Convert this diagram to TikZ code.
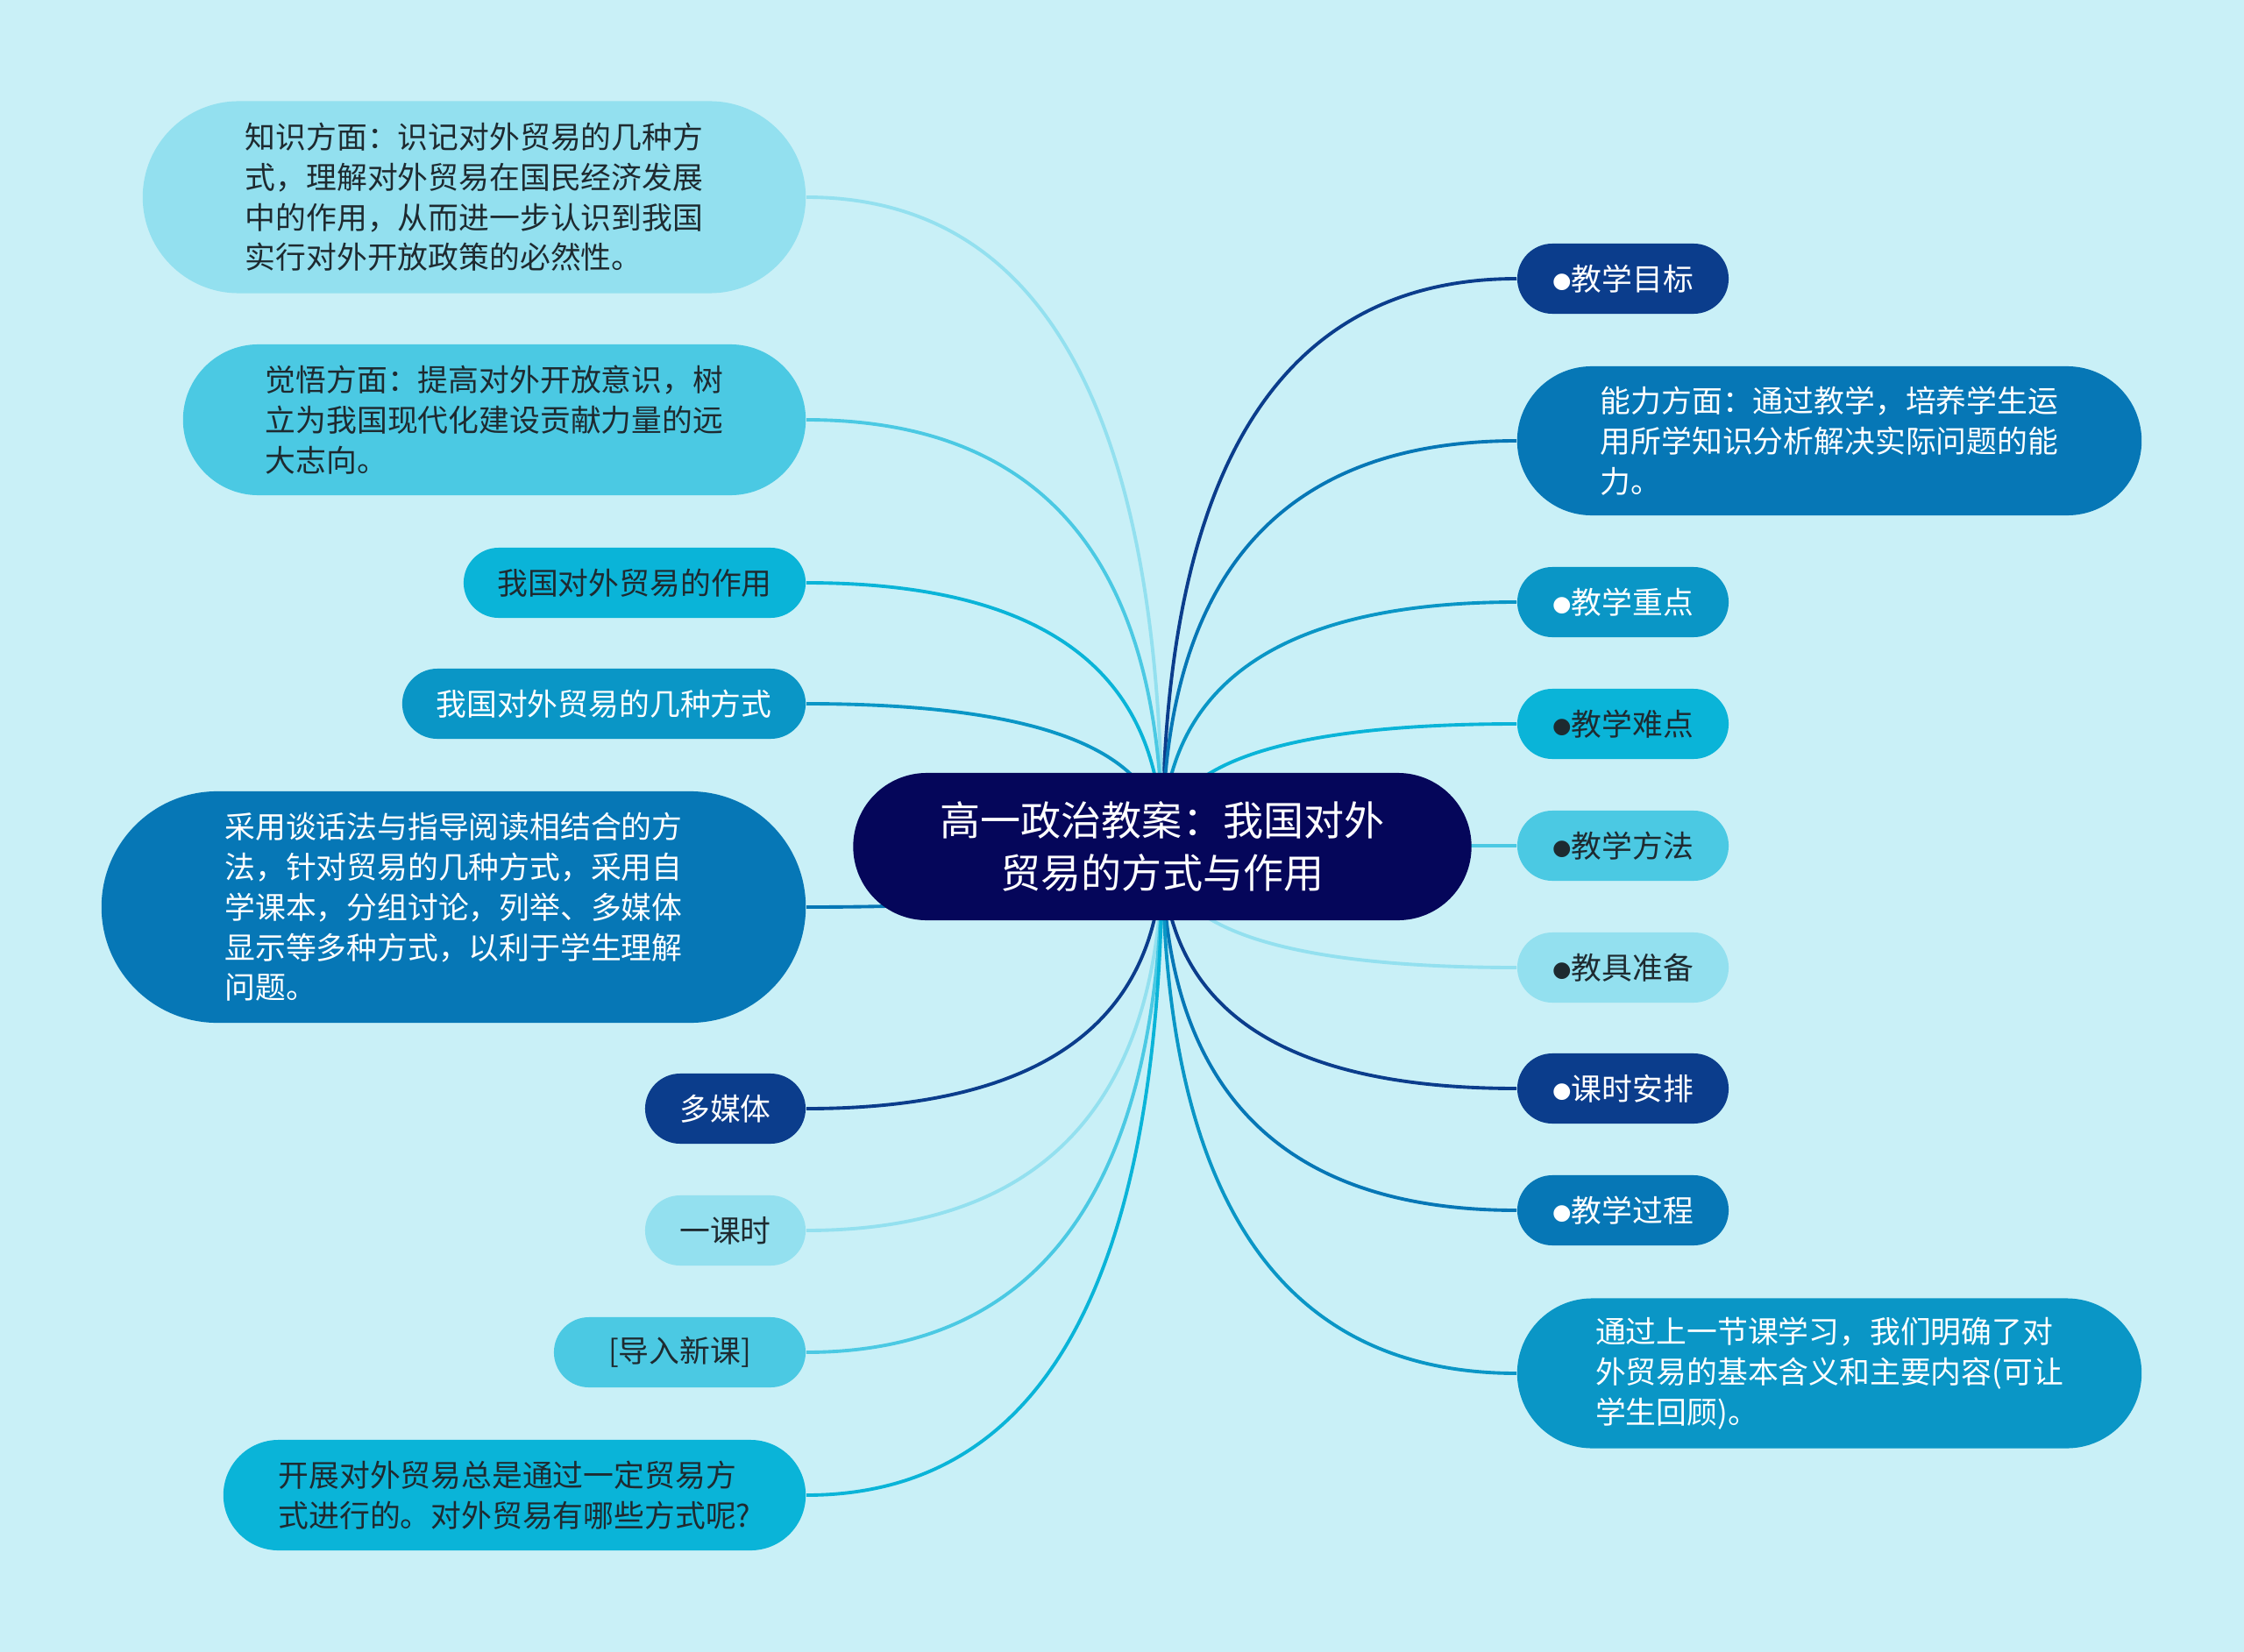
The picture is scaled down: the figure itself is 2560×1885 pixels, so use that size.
\documentclass[tikz,border=0pt]{standalone}
\usepackage{fontspec}
\setmainfont{Noto Sans CJK SC}
\newfontfamily\dotfont{DejaVu Sans}
\usetikzlibrary{calc,backgrounds}

\definecolor{bgcol}{HTML}{C9F0F7}
\definecolor{hubcol}{HTML}{05065A}
\definecolor{navy}{HTML}{0B3D8C}
\definecolor{deep}{HTML}{0677B6}
\definecolor{mid}{HTML}{0A96C6}
\definecolor{bright}{HTML}{0AB4D8}
\definecolor{sky}{HTML}{4BC9E3}
\definecolor{pale}{HTML}{93E0EF}
\definecolor{ink}{HTML}{1E2A30}

\newcommand\dotb{\raisebox{0.9pt}{\dotfont\fontsize{7}{7}\selectfont ●}}

\tikzset{
  pill/.style 2 args={rectangle, rounded corners=0.5*#2, minimum width=#1,
    minimum height=#2, inner sep=0pt, align=left,
    font=\fontsize{9.9}{13}\selectfont},
  navyfill/.style={fill=navy, text=white},
  deepfill/.style={fill=deep, text=white},
  midfill/.style={fill=mid, text=white},
  brightfill/.style={fill=bright, text=ink},
  skyfill/.style={fill=sky, text=ink},
  palefill/.style={fill=pale, text=ink},
  link/.style={draw=#1, line width=1.1pt},
}

\begin{document}
\begin{tikzpicture}[x=0.01cm, y=-0.01cm]
  %\draw[lightgray] (0,0) grid[step=100] (2560,1885);
  \node[pill={7.05cm}{1.68cm}, fill=hubcol, text=white, align=center,
    font=\fontsize{13.1}{17.2}\selectfont] (hub) at (1326,966)
    {高一政治教案：我国对外\\贸易的方式与作用};

  % right side
  \node[pill={2.41cm}{0.80cm}, navyfill] (goal) at (1851.5,318) {\dotb 教学目标};
  \node[pill={7.12cm}{1.70cm}, deepfill] (ability) at (2087,503)
    {能力方面：通过教学，培养学生运\\用所学知识分析解决实际问题的能\\力。};
  \node[pill={2.41cm}{0.80cm}, midfill] (key) at (1851.5,687) {\dotb 教学重点};
  \node[pill={2.41cm}{0.80cm}, brightfill] (hard) at (1851.5,826) {\dotb 教学难点};
  \node[pill={2.41cm}{0.80cm}, skyfill] (method) at (1851.5,965) {\dotb 教学方法};
  \node[pill={2.41cm}{0.80cm}, palefill] (tools) at (1851.5,1104) {\dotb 教具准备};
  \node[pill={2.41cm}{0.80cm}, navyfill] (hours) at (1851.5,1242) {\dotb 课时安排};
  \node[pill={2.41cm}{0.80cm}, deepfill] (process) at (1851.5,1381) {\dotb 教学过程};
  \node[pill={7.12cm}{1.71cm}, midfill] (review) at (2087,1567)
    {通过上一节课学习，我们明确了对\\外贸易的基本含义和主要内容(可让\\学生回顾)。};

  % left side
  \node[pill={7.56cm}{2.19cm}, palefill] (know) at (541,225)
    {知识方面：识记对外贸易的几种方\\式，理解对外贸易在国民经济发展\\中的作用，从而进一步认识到我国\\实行对外开放政策的必然性。};
  \node[pill={7.10cm}{1.72cm}, skyfill] (aware) at (564,479)
    {觉悟方面：提高对外开放意识，树\\立为我国现代化建设贡献力量的远\\大志向。};
  \node[pill={3.90cm}{0.80cm}, brightfill] (role) at (724,665) {我国对外贸易的作用};
  \node[pill={4.60cm}{0.80cm}, midfill] (ways) at (689,803) {我国对外贸易的几种方式};
  \node[pill={8.03cm}{2.64cm}, deepfill] (talk) at (517.5,1035)
    {采用谈话法与指导阅读相结合的方\\法，针对贸易的几种方式，采用自\\学课本，分组讨论，列举、多媒体\\显示等多种方式，以利于学生理解\\问题。};
  \node[pill={1.83cm}{0.80cm}, navyfill] (media) at (827.5,1265) {多媒体};
  \node[pill={1.83cm}{0.80cm}, palefill] (period) at (827.5,1404) {一课时};
  \node[pill={2.87cm}{0.80cm}, skyfill] (intro) at (775.5,1543) {[导入新课]};
  \node[pill={6.64cm}{1.26cm}, brightfill] (open) at (587,1706)
    {开展对外贸易总是通过一定贸易方\\式进行的。对外贸易有哪些方式呢?};

  \begin{pgfonlayer}{background}
    \fill[bgcol] (0,0) rectangle (2560,1885);
    \foreach \n/\c in {goal/navy, ability/deep, key/mid, hard/bright, method/sky,
        tools/pale, hours/navy, process/deep, review/mid}
      \draw[link=\c] (hub.center)
        .. controls ($(hub.center)!2/3!(hub.center |- \n.west)$)
        and ($(\n.west)!2/3!(hub.center |- \n.west)$) .. (\n.west);
    \foreach \n/\c in {know/pale, aware/sky, role/bright, ways/mid, talk/deep,
        media/navy, period/pale, intro/sky, open/bright}
      \draw[link=\c] (hub.center)
        .. controls ($(hub.center)!2/3!(hub.center |- \n.east)$)
        and ($(\n.east)!2/3!(hub.center |- \n.east)$) .. (\n.east);
  \end{pgfonlayer}
\end{tikzpicture}
\end{document}
